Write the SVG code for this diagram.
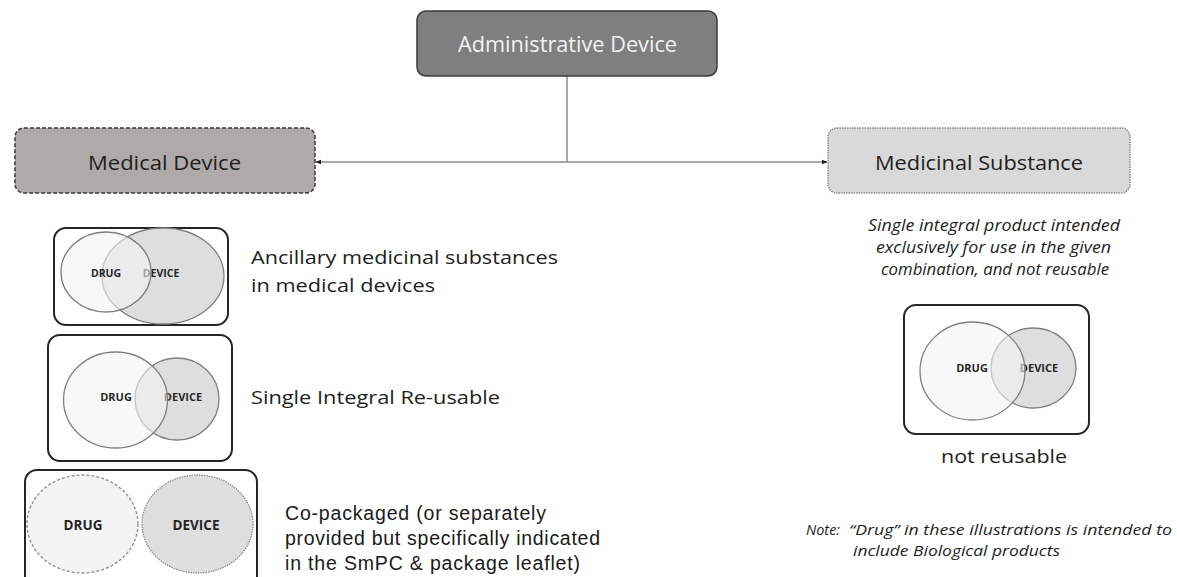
<svg xmlns="http://www.w3.org/2000/svg" width="1177" height="577" viewBox="0 0 1177 577">
  <style>
    .cal { font-family: "Open Sans", Lato, "Liberation Sans", sans-serif; }
    .box { stroke: #262626; stroke-width: 2; fill: #ffffff; }
    .device { fill: #dedede; stroke: #7f7f7f; stroke-width: 1.3; }
    .drug { fill: #f4f4f4; fill-opacity: 0.6; stroke: #7f7f7f; stroke-width: 1.3; }
    .lbl { font-family: "Open Sans", Lato, sans-serif; font-weight: bold; fill: #262626; text-anchor: middle; }
    .side { font-family: "Open Sans", Lato, sans-serif; font-size: 19px; fill: #1e1e1e; }
    .ital { font-family: "Open Sans", Lato, sans-serif; font-style: italic; fill: #1e1e1e; }
    .conn { stroke: #8c8c8c; stroke-width: 1.5; fill: none; }
  </style>
  <defs>
    <marker id="arrow" viewBox="0 0 10 10" refX="9" refY="5" markerWidth="6" markerHeight="6" orient="auto-start-reverse" markerUnits="userSpaceOnUse">
      <path d="M0,1 L10,5 L0,9 z" fill="#1a1a1a"/>
    </marker>
  </defs>

  <rect width="1177" height="577" fill="#ffffff"/>

  <!-- connectors -->
  <g id="connectors">
    <line class="conn" x1="567" y1="76" x2="567" y2="162"/>
    <line class="conn" x1="567" y1="162" x2="316" y2="162" marker-end="url(#arrow)"/>
    <line class="conn" x1="567" y1="162" x2="827" y2="162" marker-end="url(#arrow)"/>
  </g>

  <!-- top node -->
  <g id="administrative-device">
    <rect x="417" y="11" width="300" height="65" rx="9" fill="#7f7f7f" stroke="#3a3a3a" stroke-width="1.5"/>
    <text class="cal" x="567.5" y="52" font-size="21" fill="#f2f2f2" text-anchor="middle" textLength="219" lengthAdjust="spacingAndGlyphs">Administrative Device</text>
  </g>

  <g id="medical-device">
    <rect x="15" y="128" width="300" height="65" rx="9" fill="#aeaaaa" stroke="#3a3a3a" stroke-width="1.5" stroke-dasharray="4 2"/>
    <text class="cal" x="164.5" y="170" font-size="20" fill="#1e1e1e" text-anchor="middle" textLength="153" lengthAdjust="spacingAndGlyphs">Medical Device</text>
  </g>

  <g id="medicinal-substance">
    <rect x="828" y="128" width="302" height="65" rx="9" fill="#d9d9d9" stroke="#8c8c8c" stroke-width="1.5" stroke-dasharray="1.5 1"/>
    <text class="cal" x="979" y="170" font-size="20" fill="#1e1e1e" text-anchor="middle" textLength="208" lengthAdjust="spacingAndGlyphs">Medicinal Substance</text>
    <text class="ital" font-size="15.5" text-anchor="middle">
      <tspan x="996" y="231" textLength="252" lengthAdjust="spacingAndGlyphs">Single integral product intended</tspan>
      <tspan x="995.5" y="253" textLength="235" lengthAdjust="spacingAndGlyphs">exclusively for use in the given</tspan>
      <tspan x="995" y="275" textLength="228" lengthAdjust="spacingAndGlyphs">combination, and not reusable</tspan>
    </text>
  </g>

  <!-- ancillary substances -->
  <g id="ancillary">
    <rect class="box" x="54" y="228" width="174" height="97" rx="12"/>
    <ellipse class="device" cx="163" cy="276" rx="61" ry="48"/>
    <text class="lbl" x="161" y="277" font-size="10.5">DEVICE</text>
    <ellipse class="drug" cx="106" cy="272" rx="45" ry="40"/>
    <text class="lbl" x="106" y="277" font-size="10.5">DRUG</text>
    <text class="side">
      <tspan x="251" y="264" textLength="307" lengthAdjust="spacingAndGlyphs">Ancillary medicinal substances</tspan>
      <tspan x="251" y="292" textLength="184" lengthAdjust="spacingAndGlyphs">in medical devices</tspan>
    </text>
  </g>

  <!-- single integral re-usable -->
  <g id="single-integral">
    <rect class="box" x="48" y="335" width="184" height="126" rx="12"/>
    <ellipse class="device" cx="177" cy="399" rx="42" ry="41"/>
    <text class="lbl" x="183" y="401" font-size="11">DEVICE</text>
    <ellipse class="drug" cx="115.5" cy="400" rx="52" ry="48"/>
    <text class="lbl" x="116" y="401" font-size="11">DRUG</text>
    <text class="side" x="251" y="404" textLength="249" lengthAdjust="spacingAndGlyphs">Single Integral Re-usable</text>
  </g>

  <!-- co-packaged -->
  <g id="co-packaged">
    <rect class="box" x="25" y="470" width="232" height="118" rx="12"/>
    <ellipse cx="82.5" cy="524" rx="55.5" ry="49" fill="#f4f4f4" stroke="#8c8c8c" stroke-width="1.3" stroke-dasharray="3 2"/>
    <ellipse cx="197.5" cy="524" rx="55.5" ry="49" fill="#dedede" stroke="#8c8c8c" stroke-width="1.3" stroke-dasharray="1.5 1"/>
    <text class="lbl" x="83" y="530" font-size="13.5">DRUG</text>
    <text class="lbl" x="196" y="530" font-size="13.5">DEVICE</text>
    <text font-family="'Liberation Sans', Arial, sans-serif" font-size="19.5" fill="#1a1a1a">
      <tspan x="285" y="520" textLength="261" lengthAdjust="spacing">Co-packaged (or separately</tspan>
      <tspan x="285" y="545" textLength="315" lengthAdjust="spacing">provided but specifically indicated</tspan>
      <tspan x="285" y="570" textLength="295" lengthAdjust="spacing">in the SmPC &amp; package leaflet)</tspan>
    </text>
  </g>

  <!-- not reusable -->
  <g id="not-reusable">
    <rect class="box" x="904" y="305" width="185" height="129" rx="12"/>
    <ellipse class="device" cx="1033.5" cy="368" rx="42.5" ry="40"/>
    <text class="lbl" x="1039" y="372" font-size="11">DEVICE</text>
    <ellipse class="drug" cx="972.5" cy="371" rx="52.5" ry="49"/>
    <text class="lbl" x="972" y="372" font-size="11">DRUG</text>
    <text class="cal" x="1004" y="463" font-size="19" fill="#1e1e1e" text-anchor="middle" textLength="126" lengthAdjust="spacingAndGlyphs">not reusable</text>
  </g>

  <!-- note -->
  <g id="note">
    <text class="ital" font-size="14.5">
      <tspan x="806" y="535" textLength="34" lengthAdjust="spacingAndGlyphs">Note:</tspan>
      <tspan x="849" y="535" textLength="323" lengthAdjust="spacingAndGlyphs">“Drug” in these illustrations is intended to</tspan>
      <tspan x="853" y="555.5" textLength="207" lengthAdjust="spacingAndGlyphs">include Biological products</tspan>
    </text>
  </g>
</svg>
